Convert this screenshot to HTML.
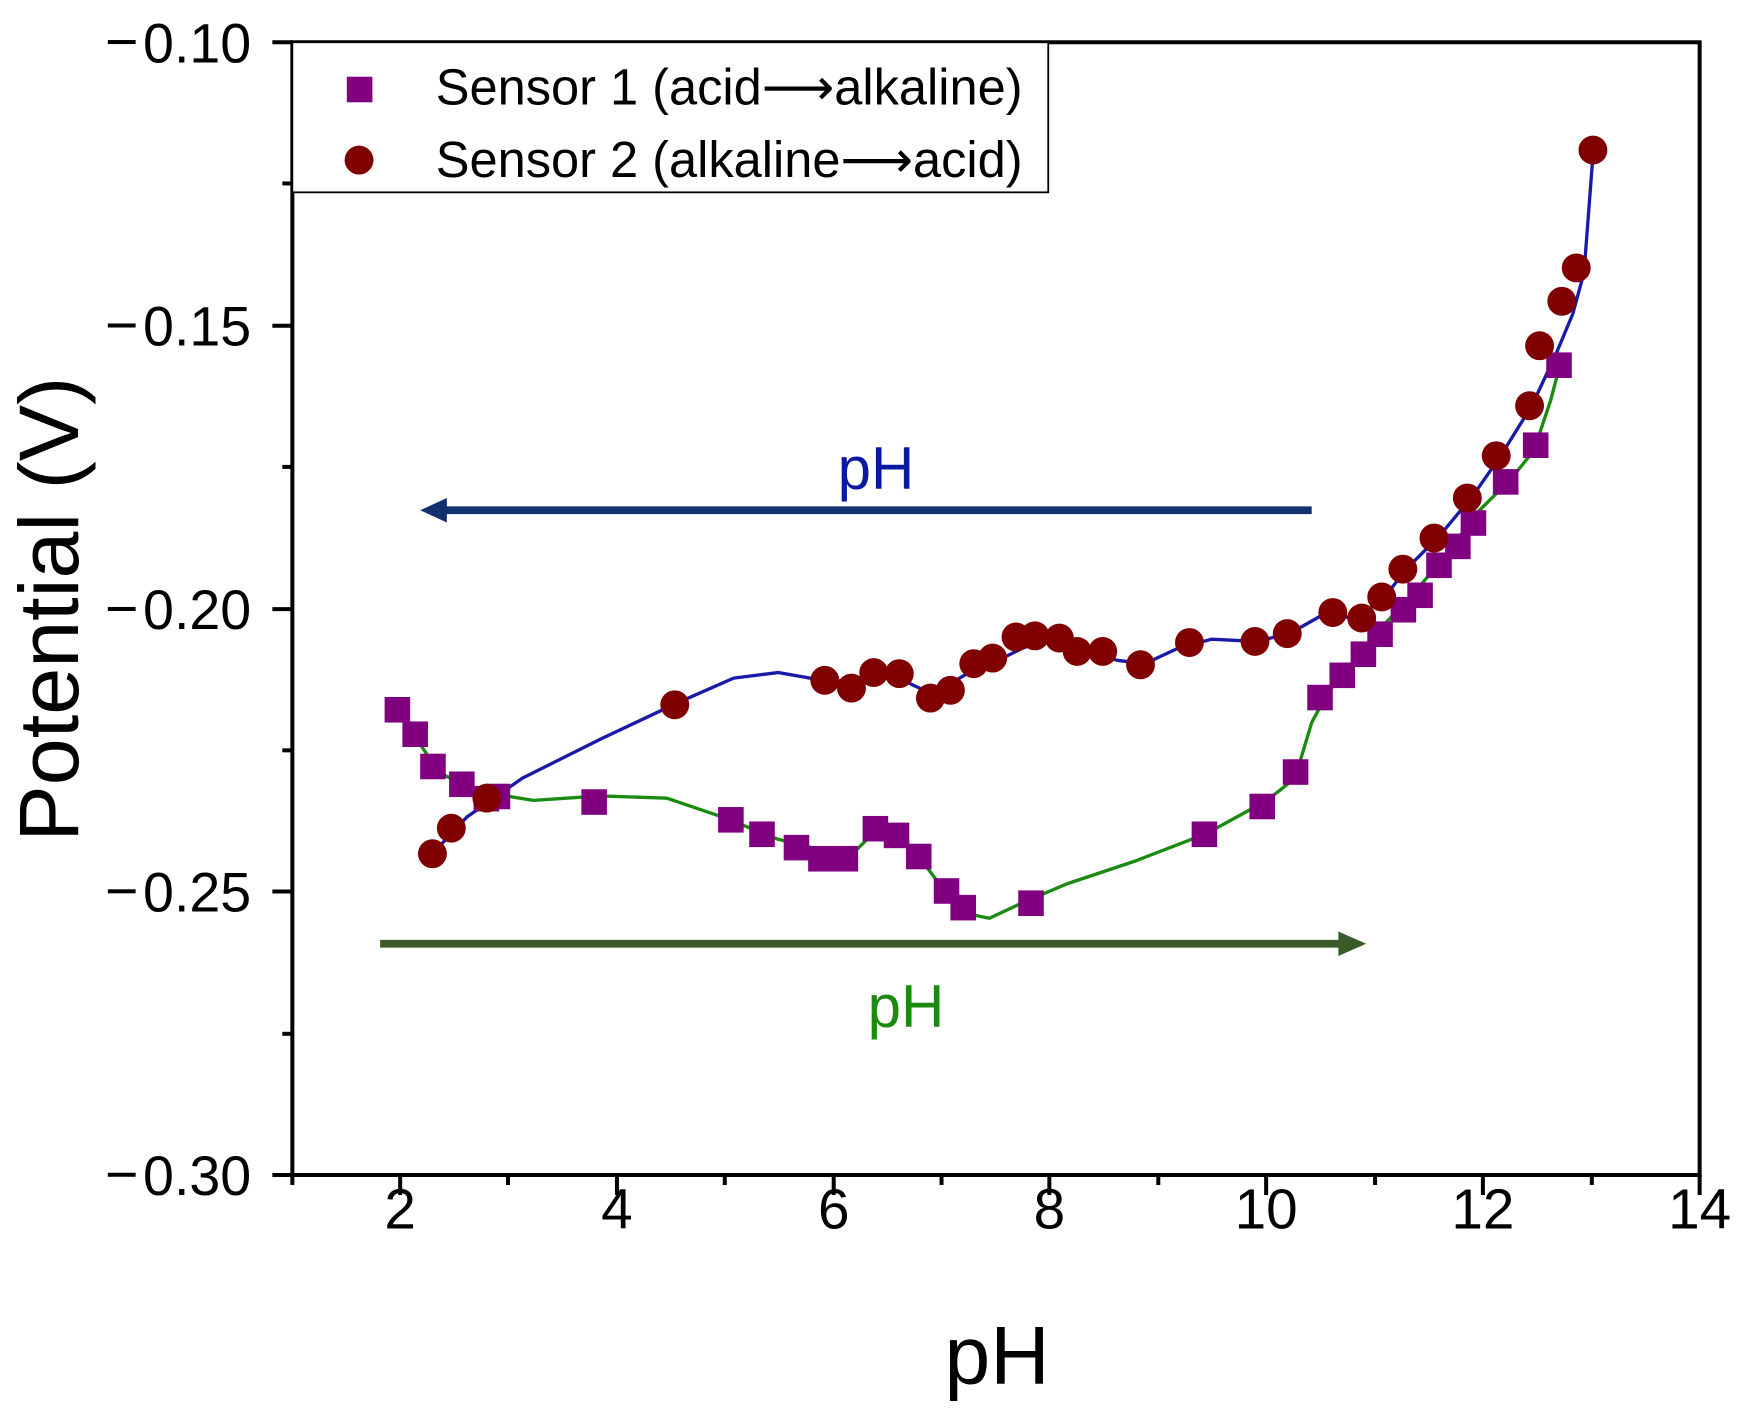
<!DOCTYPE html>
<html><head><meta charset="utf-8"><style>html,body{margin:0;padding:0;background:#fff}svg{display:block}</style></head>
<body>
<svg width="1743" height="1408" viewBox="0 0 1568 1266.6" xmlns="http://www.w3.org/2000/svg" font-family="Liberation Sans, Arial, sans-serif">
<rect x="0" y="0" width="1568" height="1267" fill="#fff"/>
<rect x="263" y="38" width="1266" height="1019" fill="none" stroke="#000" stroke-width="3.6"/>
<g stroke="#000" stroke-width="3.6">
<line x1="360" y1="1057" x2="360" y2="1075"/><line x1="555" y1="1057" x2="555" y2="1075"/><line x1="750" y1="1057" x2="750" y2="1075"/><line x1="944" y1="1057" x2="944" y2="1075"/><line x1="1139" y1="1057" x2="1139" y2="1075"/><line x1="1334" y1="1057" x2="1334" y2="1075"/><line x1="1529" y1="1057" x2="1529" y2="1075"/>
<line x1="263" y1="1057" x2="263" y2="1066"/><line x1="457" y1="1057" x2="457" y2="1066"/><line x1="652" y1="1057" x2="652" y2="1066"/><line x1="847" y1="1057" x2="847" y2="1066"/><line x1="1042" y1="1057" x2="1042" y2="1066"/><line x1="1237" y1="1057" x2="1237" y2="1066"/><line x1="1432" y1="1057" x2="1432" y2="1066"/>
<line x1="245" y1="38" x2="263" y2="38"/><line x1="245" y1="293" x2="263" y2="293"/><line x1="245" y1="548" x2="263" y2="548"/><line x1="245" y1="802" x2="263" y2="802"/><line x1="245" y1="1057" x2="263" y2="1057"/>
<line x1="254" y1="165" x2="263" y2="165"/><line x1="254" y1="420" x2="263" y2="420"/><line x1="254" y1="675" x2="263" y2="675"/><line x1="254" y1="930" x2="263" y2="930"/>
</g>
<g font-size="51" fill="#000" text-anchor="middle">
<text x="360" y="1105">2</text><text x="555" y="1105">4</text><text x="750" y="1105">6</text><text x="944" y="1105">8</text><text x="1139" y="1105">10</text><text x="1334" y="1105">12</text><text x="1529" y="1105">14</text>
</g>
<g font-size="50" fill="#000" text-anchor="end">
<text x="226" y="56">0.10</text><text x="226" y="311">0.15</text><text x="226" y="566">0.20</text><text x="226" y="820">0.25</text><text x="226" y="1075">0.30</text>
</g>
<g fill="#000">
<rect x="97" y="36" width="25" height="3.6"/><rect x="97" y="291" width="25" height="3.6"/><rect x="97" y="546" width="25" height="3.6"/><rect x="97" y="800" width="25" height="3.6"/><rect x="97" y="1055" width="25" height="3.6"/>
</g>
<text x="897" y="1245" font-size="74" text-anchor="middle">pH</text>
<text transform="translate(70,548) rotate(-90)" font-size="76" text-anchor="middle">Potential (V)</text>
<rect x="263" y="38" width="680" height="135" fill="#fff" stroke="#000" stroke-width="1.6"/>
<rect x="312" y="69" width="23" height="23" fill="#800080"/>
<circle cx="323" cy="144" r="13" fill="#800000"/>
<text x="392" y="94" font-size="45.5">Sensor 1 (acid<tspan font-family="DejaVu Sans, sans-serif">⟶</tspan>alkaline)</text>
<text x="392" y="159" font-size="45.5">Sensor 2 (alkaline<tspan font-family="DejaVu Sans, sans-serif">⟶</tspan>acid)</text>
<line x1="1180" y1="459" x2="395" y2="459" stroke="#13316e" stroke-width="7"/>
<polygon points="378,459 402,448 402,470" fill="#13316e"/>
<text x="788" y="440" font-size="54" fill="#0a1aa0" text-anchor="middle">pH</text>
<line x1="342" y1="849" x2="1210" y2="849" stroke="#3a5a28" stroke-width="7"/>
<polygon points="1229,849 1204,838 1204,860" fill="#3a5a28"/>
<text x="815" y="924" font-size="54" fill="#1a8a10" text-anchor="middle">pH</text>
<polyline fill="none" stroke="#1a1aa8" stroke-width="3" stroke-linejoin="round" points="389,768 420,735 470,700 540,665 610,632 660,610 700,605 740,612 770,613 800,606 825,618 840,625 860,612 880,600 900,593 920,583 940,576 960,578 980,587 1005,594 1030,597 1060,583 1090,575 1130,577 1160,570 1190,553 1220,556 1245,538 1265,512 1295,482 1325,446 1350,410 1378,365 1400,318 1415,282 1425,245 1433,140"/>
<polyline fill="none" stroke="#1a8a10" stroke-width="3" stroke-linejoin="round" points="357,638 375,665 395,695 430,712 480,720 540,716 600,718 650,735 700,755 740,765 770,765 790,745 810,752 830,775 850,802 870,822 890,826 920,812 960,795 1020,775 1085,750 1140,720 1165,700 1180,650 1195,622 1215,600 1245,562 1275,530 1300,500 1330,460 1360,430 1380,405 1395,360 1405,322"/>
<g fill="#800080">
<rect x="346" y="627" width="23" height="23"/><rect x="362" y="649" width="23" height="23"/><rect x="378" y="678" width="23" height="23"/><rect x="404" y="694" width="23" height="23"/><rect x="426" y="707" width="23" height="23"/><rect x="436" y="705" width="23" height="23"/><rect x="523" y="710" width="23" height="23"/><rect x="646" y="726" width="23" height="23"/><rect x="674" y="739" width="23" height="23"/><rect x="705" y="751" width="23" height="23"/><rect x="727" y="761" width="23" height="23"/><rect x="749" y="761" width="23" height="23"/><rect x="776" y="734" width="23" height="23"/><rect x="795" y="740" width="23" height="23"/><rect x="815" y="759" width="23" height="23"/><rect x="840" y="790" width="23" height="23"/><rect x="855" y="805" width="23" height="23"/><rect x="916" y="801" width="23" height="23"/><rect x="1072" y="739" width="23" height="23"/><rect x="1124" y="714" width="23" height="23"/><rect x="1154" y="683" width="23" height="23"/><rect x="1176" y="616" width="23" height="23"/><rect x="1196" y="596" width="23" height="23"/><rect x="1215" y="577" width="23" height="23"/><rect x="1230" y="559" width="23" height="23"/><rect x="1251" y="537" width="23" height="23"/><rect x="1266" y="524" width="23" height="23"/><rect x="1283" y="497" width="23" height="23"/><rect x="1300" y="480" width="23" height="23"/><rect x="1314" y="459" width="23" height="23"/><rect x="1343" y="422" width="23" height="23"/><rect x="1370" y="389" width="23" height="23"/><rect x="1391" y="317" width="23" height="23"/>
</g>
<g fill="#800000">
<circle cx="389" cy="768" r="13"/><circle cx="406" cy="745" r="13"/><circle cx="438" cy="718" r="13"/><circle cx="607" cy="634" r="13"/><circle cx="742" cy="612" r="13"/><circle cx="766" cy="619" r="13"/><circle cx="786" cy="605" r="13"/><circle cx="809" cy="606" r="13"/><circle cx="837" cy="628" r="13"/><circle cx="855" cy="621" r="13"/><circle cx="876" cy="597" r="13"/><circle cx="893" cy="592" r="13"/><circle cx="914" cy="573" r="13"/><circle cx="931" cy="572" r="13"/><circle cx="953" cy="574" r="13"/><circle cx="969" cy="586" r="13"/><circle cx="992" cy="586" r="13"/><circle cx="1026" cy="598" r="13"/><circle cx="1070" cy="578" r="13"/><circle cx="1129" cy="577" r="13"/><circle cx="1158" cy="570" r="13"/><circle cx="1199" cy="551" r="13"/><circle cx="1225" cy="556" r="13"/><circle cx="1243" cy="537" r="13"/><circle cx="1262" cy="512" r="13"/><circle cx="1290" cy="484" r="13"/><circle cx="1320" cy="448" r="13"/><circle cx="1346" cy="410" r="13"/><circle cx="1376" cy="365" r="13"/><circle cx="1385" cy="311" r="13"/><circle cx="1405" cy="271" r="13"/><circle cx="1418" cy="241" r="13"/><circle cx="1433" cy="135" r="13"/>
</g>
</svg>
</body></html>
